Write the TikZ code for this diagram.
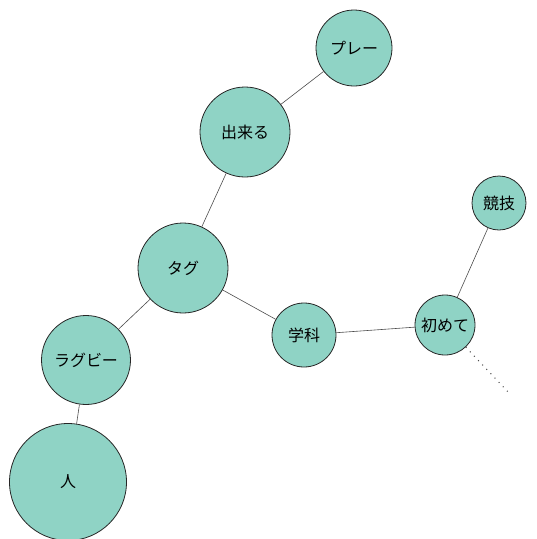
\documentclass[tikz,border=0pt]{standalone}
\usepackage{fontspec}
\newfontfamily\jpfont{Noto Sans CJK JP}
\begin{document}
\begin{tikzpicture}[x=1pt,y=-1pt,
  word/.style={circle,draw=black!85,line width=0.8pt,fill=wordfill,inner sep=0pt,
    minimum size=#1,font=\jpfont\fontsize{16}{18}\selectfont},
  link/.style={draw=black!70,line width=0.6pt}]
\definecolor{wordfill}{HTML}{8FD3C5}
\useasboundingbox (0,0) rectangle (537,539);
\node[word=76pt] (pure) at (354,48) {プレー};
\node[word=90pt] (dekiru) at (245,132) {出来る};
\node[word=90pt] (tag) at (183,268) {タグ};
\node[word=64pt] (gakka) at (304,335) {学科};
\node[word=60pt] (hajimete) at (445,325) {初めて};
\node[word=54pt] (kyougi) at (499,203) {競技};
\node[word=89pt] (rugby) at (86,360) {ラグビー};
\node[word=117pt] (hito) at (68,482) {人};
\coordinate (tail) at (509,393);
\draw[link] (pure) -- (dekiru);
\draw[link] (dekiru) -- (tag);
\draw[link] (tag) -- (gakka);
\draw[link] (tag) -- (rugby);
\draw[link] (gakka) -- (hajimete);
\draw[link] (hajimete) -- (kyougi);
\draw[link] (rugby) -- (hito);
\draw[link,line width=1pt,dash pattern=on 1pt off 5pt] (hajimete) -- (tail);
\end{tikzpicture}
\end{document}
